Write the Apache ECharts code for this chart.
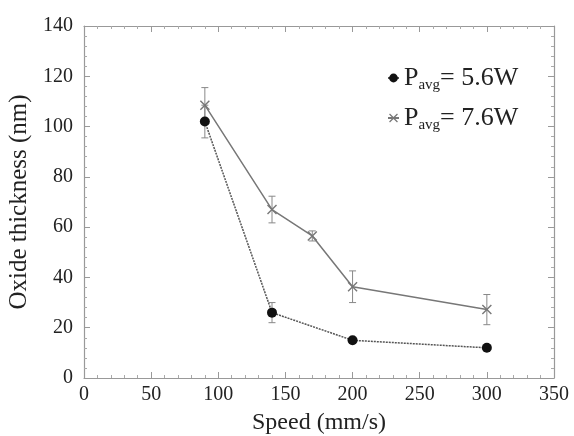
<!DOCTYPE html>
<html>
<head>
<meta charset="utf-8">
<script src="https://cdn.jsdelivr.net/npm/echarts@6/dist/echarts.min.js"></script>
<style>
  html, body { margin: 0; padding: 0; background: #fff; }
  #chart { width: 574px; height: 436px; }
</style>
</head>
<body>
<div id="chart"></div>
<script>
// values
const speed56 = [90, 140, 200, 300]
const thick56 = [102, 26, 15, 12]
const err56 = [6.5, 4, 0, 0]

const speed76 = [90, 140, 170, 200, 300]
const thick76 = [108.5, 67, 56.5, 36.3, 27.2]
const err76 = [7, 5.3, 2, 6.3, 6]

const name56 = 'Pavg= 5.6W'
const name76 = 'Pavg= 7.6W'

const serif = '"Liberation Serif", "Times New Roman", serif'
const crossPath = 'path://M0,1L1,0L5,4L9,0L10,1L6,5L10,9L9,10L5,6L1,10L0,9L4,5Z'

const chart = echarts.init(document.getElementById('chart'))

function errBars(xs, ys, es) {
  return xs.map((x, i) => [x, ys[i] - es[i], ys[i] + es[i]])
}

function renderErr(params, api) {
  const x = api.value(0)
  const lo = api.coord([x, api.value(1)])
  const hi = api.coord([x, api.value(2)])
  if (Math.abs(lo[1] - hi[1]) < 1) return null
  const w = 3.5
  const style = { stroke: '#888', lineWidth: 1 }
  return {
    type: 'group',
    children: [
      { type: 'line', shape: { x1: lo[0], y1: lo[1], x2: hi[0], y2: hi[1] }, style },
      { type: 'line', shape: { x1: lo[0] - w, y1: lo[1], x2: lo[0] + w, y2: lo[1] }, style },
      { type: 'line', shape: { x1: hi[0] - w, y1: hi[1], x2: hi[0] + w, y2: hi[1] }, style }
    ]
  }
}

const axisCommon = {
  type: 'value',
  axisLine: { show: true, onZero: false, lineStyle: { color: '#999', width: 1.2 } },
  axisTick: { show: true, inside: true, length: 6, lineStyle: { color: '#999' } },
  minorTick: { show: true, splitNumber: 5, length: 3, lineStyle: { color: '#aaa' } },
  splitLine: { show: false },
  axisLabel: { color: '#222', fontFamily: serif, fontSize: 20 }
}

const option = {
  animation: false,
  backgroundColor: '#fff',
  grid: { left: 84, right: 20, top: 26, bottom: 58, outerBoundsMode: 'none' },
  legend: {
    data: [name56, name76],
    orient: 'vertical',
    left: 382,
    top: 60,
    itemGap: 12,
    itemWidth: 11,
    itemHeight: 11,
    formatter: function (n) {
      const w = n === name56 ? '5.6W' : '7.6W'
      return '{p|P}{s|avg}{p|= ' + w + '}'
    },
    textStyle: {
      rich: {
        p: { fontFamily: serif, fontSize: 26, color: '#222', lineHeight: 30 },
        s: { fontFamily: serif, fontSize: 15, color: '#222', verticalAlign: 'bottom', padding: [14, 0, 0, 0] }
      }
    }
  },
  xAxis: [
    Object.assign({}, axisCommon, {
      min: 0, max: 350, interval: 50,
      name: 'Speed (mm/s)',
      nameLocation: 'middle',
      nameGap: 33,
      nameTextStyle: { color: '#222', fontFamily: serif, fontSize: 24 },
      axisLabel: Object.assign({}, axisCommon.axisLabel, { margin: 7 })
    }),
    Object.assign({}, axisCommon, {
      min: 0, max: 350, interval: 50, position: 'top',
      axisLabel: { show: false }
    })
  ],
  yAxis: [
    Object.assign({}, axisCommon, {
      min: 0, max: 140, interval: 20,
      name: 'Oxide thickness (nm)',
      nameLocation: 'middle',
      nameGap: 52,
      nameTextStyle: { color: '#222', fontFamily: serif, fontSize: 25 },
      axisLabel: Object.assign({}, axisCommon.axisLabel, { margin: 11 })
    }),
    Object.assign({}, axisCommon, {
      min: 0, max: 140, interval: 20, position: 'right',
      axisLabel: { show: false }
    })
  ],
  series: [
    {
      type: 'custom',
      renderItem: renderErr,
      data: errBars(speed76, thick76, err76),
      encode: { x: 0, y: [1, 2] },
      z: 1,
      silent: true
    },
    {
      type: 'custom',
      renderItem: renderErr,
      data: errBars(speed56, thick56, err56),
      encode: { x: 0, y: [1, 2] },
      z: 1,
      silent: true
    },
    {
      name: name76,
      type: 'line',
      data: speed76.map((x, i) => [x, thick76[i]]),
      symbol: crossPath,
      symbolSize: 10,
      lineStyle: { color: '#777', width: 1.5 },
      itemStyle: { color: '#777' },
      z: 2
    },
    {
      name: name56,
      type: 'line',
      data: speed56.map((x, i) => [x, thick56[i]]),
      symbol: 'circle',
      symbolSize: 10,
      lineStyle: { color: '#555', width: 1.5, type: [2, 1] },
      itemStyle: { color: '#111' },
      z: 3
    }
  ]
}

chart.setOption(option)
</script>
</body>
</html>
